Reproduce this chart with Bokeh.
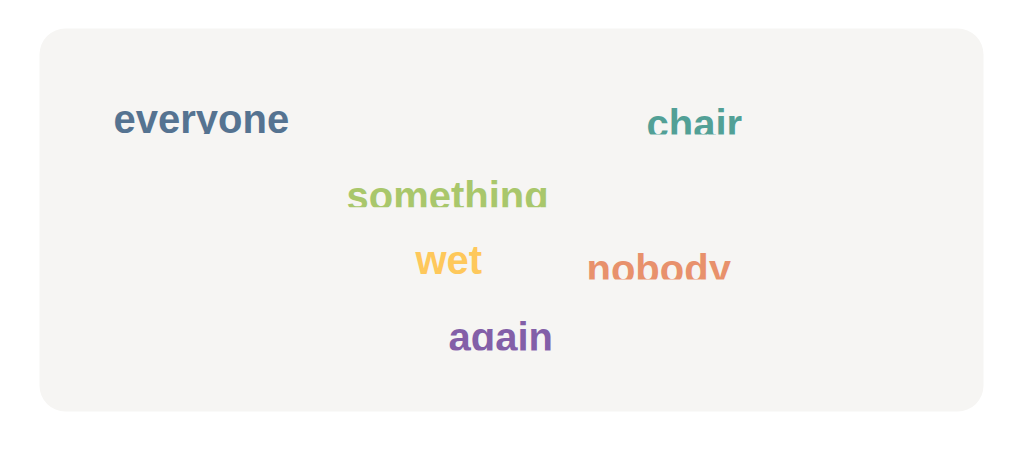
from bokeh.plotting import figure
from bokeh.models import ColumnDataSource, Range1d
from bokeh.core.properties import value
from bokeh.embed import file_html
from bokeh.resources import INLINE

# palabras de la nube, posicion (x izquierda, y linea base, en pixeles) y color
words = ["everyone", "chair", "something", "wet", "nobody", "again"]
word_x = [113, 646, 346, 415, 586, 448]
word_y = [133.5, 138.5, 210, 274, 283.5, 351]
colors = ["#557391", "#52a096", "#a9c76b", "#fec85b", "#e8916c", "#835fa8"]
# corte inferior de cada palabra (pixeles por encima de la linea base), None = sin corte
clip_up = [0, 4.5, 3.3, None, 4.5, 1]

W, H = 1022, 462
PANEL = "#f6f5f3"
SHIFT = -15  # la linea base "alphabetic" sale mas abajo en svg

p = figure(width=W, height=H, output_backend="svg", toolbar_location=None,
           x_range=Range1d(0, W), y_range=Range1d(H, 0),
           min_border=0, outline_line_color=None,
           background_fill_color="white", border_fill_color="white")
p.axis.visible = False
p.grid.visible = False

# fondo redondeado
p.quad(left=[39], right=[983], top=[28], bottom=[411], fill_color=PANEL,
       line_color=None, border_radius=26)

source = ColumnDataSource(data=dict(x=word_x, y=[y + SHIFT for y in word_y],
                                    word=words, color=colors))
p.text("x", "y", text="word", source=source, text_color="color",
       text_font=value("Liberation Sans"), text_font_style="bold",
       text_font_size="40px", text_align="left", text_baseline="alphabetic")

# tapar la parte de abajo de las palabras (descendentes cortados)
ml, mr, mt, mb = [], [], [], []
for w, x, y, c in zip(words, word_x, word_y, clip_up):
    if c is None:
        continue
    ml.append(x - 4)
    mr.append(x + len(w) * 25)
    mt.append(y - c)
    mb.append(y + 14)
p.quad(left=ml, right=mr, top=mt, bottom=mb, fill_color=PANEL, line_color=None)

open("out.html", "w").write(file_html(p, INLINE))
